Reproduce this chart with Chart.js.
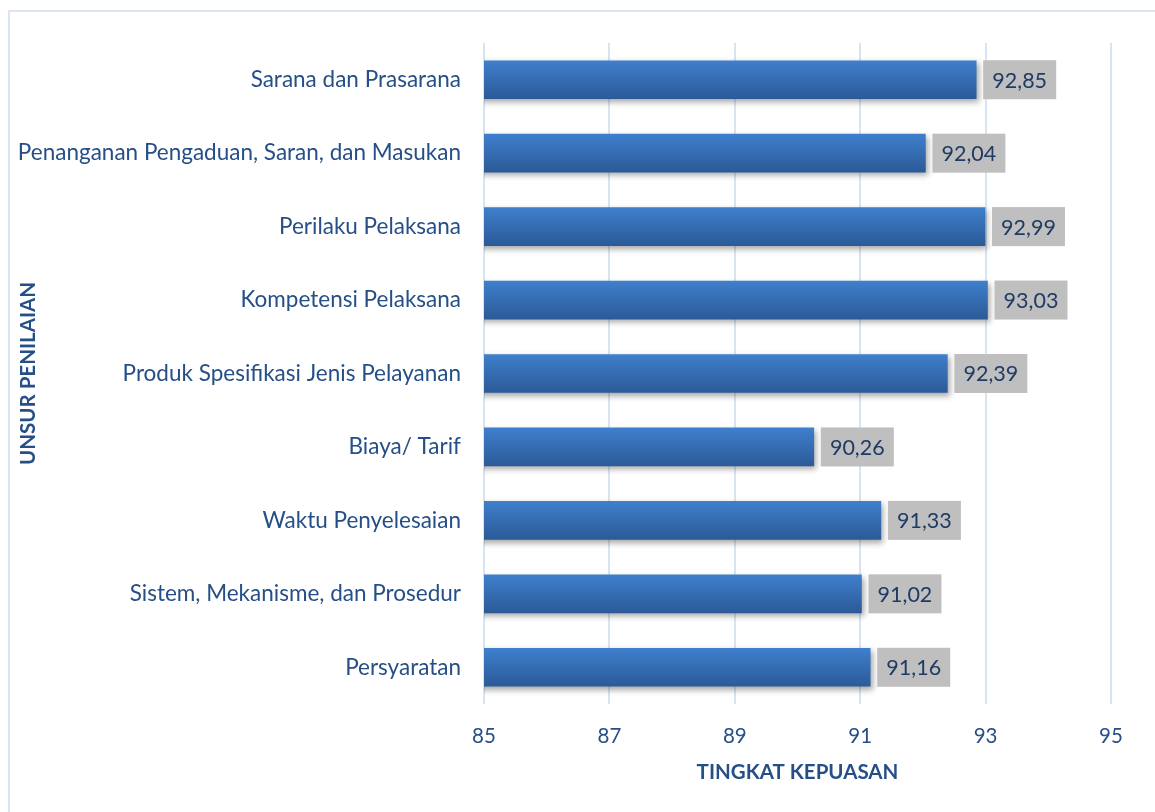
<!DOCTYPE html>
<html>
<head>
<meta charset="utf-8">
<script src="https://cdn.jsdelivr.net/npm/chart.js@4/dist/chart.umd.min.js"></script>
<style>
 html,body{margin:0;padding:0;background:#fff;overflow:hidden;}
 #frame{position:absolute;left:8px;top:10px;width:1170px;height:820px;border:2px solid #dbe5f2;box-sizing:border-box;}
 #wrap{position:absolute;left:0;top:0;width:1155px;height:812px;}
</style>
</head>
<body>
<div id="frame"></div>
<div id="wrap"><canvas id="chart"></canvas></div>
<script>
// data, top row first
const categories=["Sarana dan Prasarana","Penanganan Pengaduan, Saran, dan Masukan","Perilaku Pelaksana","Kompetensi Pelaksana","Produk Spesifikasi Jenis Pelayanan","Biaya/ Tarif","Waktu Penyelesaian","Sistem, Mekanisme, dan Prosedur","Persyaratan"];
const scores=[92.85,92.04,92.99,93.03,92.39,90.26,91.33,91.02,91.16];
const xTicks=[85,87,89,91,93,95];
const xTitle="TINGKAT KEPUASAN";
const yTitle="UNSUR PENILAIAN";

const FONT="Lato";
const AXIS_COLOR="#254f86";

// gradient + shadow for each bar
const barLook={
 id:'barLook',
 beforeDatasetDraw(chart,args){
  const ctx=chart.ctx;
  args.meta.data.forEach(el=>{
   let h=el.height, top=el.y-h/2;
   let g=ctx.createLinearGradient(0,top,0,top+h);
   g.addColorStop(0,"#3f7fcd");
   g.addColorStop(1,"#2b5a97");
   el.options.backgroundColor=g;
  });
  ctx.save();
  ctx.shadowColor="rgba(0,0,0,0.35)";
  ctx.shadowBlur=6;
  ctx.shadowOffsetX=2;
  ctx.shadowOffsetY=3;
 },
 afterDatasetDraw(chart){
  chart.ctx.restore();
 }
};

// grey value boxes right of each bar
const valueBoxes={
 id:'valueBoxes',
 afterDatasetsDraw(chart){
  const ctx=chart.ctx;
  const meta=chart.getDatasetMeta(0);
  ctx.save();
  meta.data.forEach((el,i)=>{
   let txt=scores[i].toFixed(2).replace(".",",");
   let x0=el.x+7, w=73, h=39;
   ctx.fillStyle="#bfbfbf";
   ctx.fillRect(x0,el.y-h/2,w,h);
   ctx.fillStyle="#1f3b63";
   ctx.font="21.5px "+FONT;
   ctx.textAlign="center";
   ctx.textBaseline="middle";
   ctx.fillText(txt,x0+w/2,el.y+1);
  });
  ctx.restore();
 }
};

new Chart(document.getElementById("chart"),{
 type:'bar',
 data:{
  labels:categories,
  datasets:[{data:scores,backgroundColor:()=>"#3670b5",barThickness:38,borderWidth:0}]
 },
 options:{
  indexAxis:'y',
  responsive:true,
  maintainAspectRatio:false,
  animation:false,
  layout:{padding:{top:43,right:44,left:0,bottom:0}},
  plugins:{legend:{display:false},tooltip:{enabled:false}},
  scales:{
   x:{
    min:85,max:95,
    afterBuildTicks:s=>{s.ticks=xTicks.map(v=>({value:v}));},
    afterFit:s=>{s.height=108;},
    grid:{color:"#d9e4f2",lineWidth:2,drawTicks:false},
    border:{display:false},
    ticks:{color:AXIS_COLOR,font:{family:FONT,size:20.5},padding:20},
    title:{display:true,text:xTitle,color:AXIS_COLOR,font:{family:FONT,size:20.5,weight:'bold'},padding:{top:0,bottom:27}}
   },
   y:{
    afterFit:s=>{s.width=484;},
    grid:{display:false,drawTicks:false},
    border:{display:false},
    ticks:{color:AXIS_COLOR,font:{family:FONT,size:22.5},padding:23},
    title:{display:true,text:yTitle,color:AXIS_COLOR,font:{family:FONT,size:20.5,weight:'bold'},padding:{top:16,bottom:0}}
   }
  }
 },
 plugins:[barLook,valueBoxes]
});
</script>
</body>
</html>
